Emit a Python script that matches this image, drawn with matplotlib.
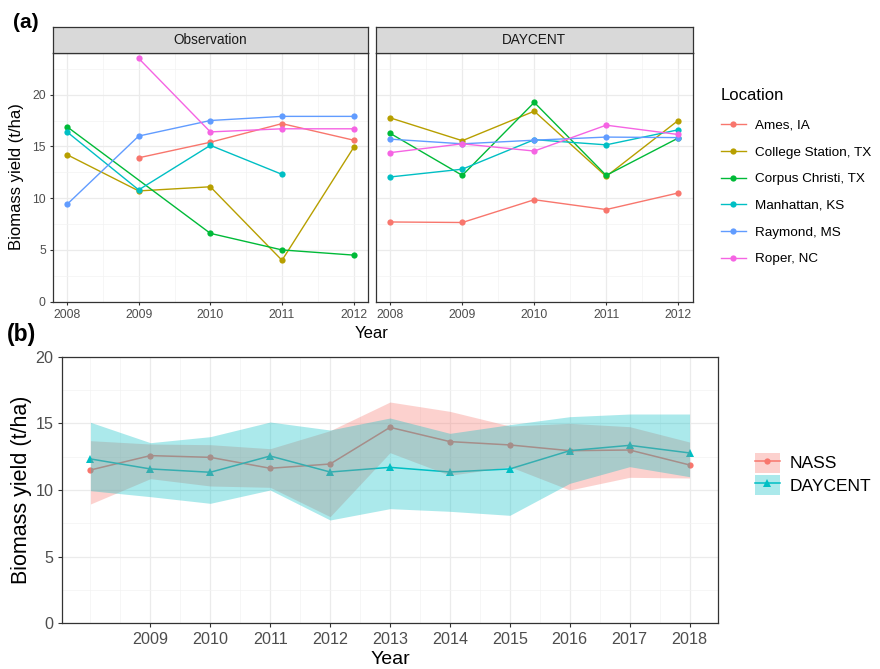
import numpy as np
import matplotlib
matplotlib.use("Agg")
import matplotlib.pyplot as plt
from matplotlib.lines import Line2D
from matplotlib.patches import Patch
from matplotlib.legend_handler import HandlerTuple

plt.rcParams['font.family'] = ['Liberation Sans', 'DejaVu Sans']

# ---------------- data: panel (a) ----------------
years_a = [2008, 2009, 2010, 2011, 2012]
locations = ["Ames, IA", "College Station, TX", "Corpus Christi, TX",
             "Manhattan, KS", "Raymond, MS", "Roper, NC"]
nan = np.nan
obs_ames = [nan, 13.9, 15.4, 17.2, 15.6]
obs_college = [14.2, 10.7, 11.1, 4.0, 14.9]
obs_corpus = [16.9, nan, 6.6, 5.0, 4.5]
obs_manhattan = [16.4, 10.8, 15.1, 12.3, nan]
obs_raymond = [9.4, 16.0, 17.5, 17.9, 17.9]
obs_roper = [nan, 23.5, 16.4, 16.7, 16.7]

day_ames = [7.7, 7.65, 9.85, 8.9, 10.5]
day_college = [17.75, 15.55, 18.4, 12.1, 17.5]
day_corpus = [16.25, 12.2, 19.25, 12.2, 15.8]
day_manhattan = [12.05, 12.8, 15.65, 15.15, 16.6]
day_raymond = [15.7, 15.25, 15.6, 15.9, 15.85]
day_roper = [14.4, 15.25, 14.55, 17.05, 16.15]

facet_titles = ["Observation", "DAYCENT"]

# ---------------- data: panel (b) ----------------
years_b = [2008, 2009, 2010, 2011, 2012, 2013, 2014, 2015, 2016, 2017, 2018]
year_b_ticks = [2009, 2010, 2011, 2012, 2013, 2014, 2015, 2016, 2017, 2018]
nass_mean = [11.5, 12.58, 12.45, 11.63, 11.95, 14.7, 13.63, 13.38, 12.95, 13.0, 11.88]
nass_lower = [8.95, 10.85, 10.3, 10.2, 8.0, 12.8, 11.1, 11.75, 10.0, 10.95, 10.9]
nass_upper = [13.7, 13.45, 13.4, 13.1, 14.45, 16.6, 15.9, 14.8, 15.0, 14.75, 13.6]
day_mean = [12.33, 11.58, 11.33, 12.55, 11.35, 11.7, 11.35, 11.58, 12.95, 13.35, 12.78]
day_lower = [9.95, 9.5, 9.0, 10.0, 7.75, 8.6, 8.4, 8.1, 10.5, 11.75, 11.0]
day_upper = [15.08, 13.55, 14.0, 15.1, 14.5, 15.4, 14.25, 14.9, 15.5, 15.7, 15.7]
series_b = ["NASS", "DAYCENT"]

# ---------------- style ----------------
loc_colors = ["#F8766D", "#B79F00", "#00BA38", "#00BFC4", "#619CFF", "#F564E3"]
c_nass, c_day = "#F8766D", "#00BFC4"
W, H = 880, 669
fig = plt.figure(figsize=(W / 100, H / 100), dpi=100)

def ax_px(x0, y0, x1, y1, **kw):
    return fig.add_axes([x0 / W, 1 - y1 / H, (x1 - x0) / W, (y1 - y0) / H], **kw)

tick_col = "#4D4D4D"
edge_col = "#333333"
grid_major = "#EBEBEB"

def style_axes(ax, fs, ylabels=True):
    for s in ax.spines.values():
        s.set_color(edge_col)
        s.set_linewidth(0.9)
    ax.set_axisbelow(True)
    ax.grid(which="major", color=grid_major, lw=0.9)
    ax.grid(which="minor", color="#F3F3F3", lw=0.5)
    ax.tick_params(which="major", length=2.5, width=0.8, color=edge_col,
                   labelsize=fs, labelcolor=tick_col, pad=2.5)
    ax.tick_params(which="minor", length=0)
    if not ylabels:
        ax.tick_params(axis="y", which="both", length=0, labelleft=False)

# ---------------- panel (a) ----------------
obs_all = [obs_ames, obs_college, obs_corpus, obs_manhattan, obs_raymond, obs_roper]
day_all = [day_ames, day_college, day_corpus, day_manhattan, day_raymond, day_roper]

panel_px = [(52.7, 52.7, 368.0, 301.7), (376.0, 52.7, 692.5, 301.7)]
for k, (data, title) in enumerate(zip([obs_all, day_all], facet_titles)):
    x0, y0, x1, y1 = panel_px[k]
    ax = ax_px(x0, y0, x1, y1)
    for vals, col in zip(data, loc_colors):
        yrs = np.array(years_a, dtype=float)
        v = np.array(vals, dtype=float)
        m = ~np.isnan(v)
        ax.plot(yrs[m], v[m], color=col, lw=1.0, marker="o", ms=4.5,
                markeredgewidth=0, zorder=3)
    ax.set_xlim(2007.8, 2012.2)
    ax.set_ylim(0, 24.05)
    ax.set_xticks(years_a)
    ax.set_xticks([2008.5, 2009.5, 2010.5, 2011.5], minor=True)
    ax.set_yticks([0, 5, 10, 15, 20])
    ax.set_yticks([2.5, 7.5, 12.5, 17.5, 22.5], minor=True)
    style_axes(ax, 8.8, ylabels=(k == 0))
    # facet strip
    sx = ax_px(x0, 27.0, x1, 52.7)
    sx.set_facecolor("#D9D9D9")
    sx.set_xticks([]); sx.set_yticks([])
    for s in sx.spines.values():
        s.set_color(edge_col); s.set_linewidth(0.9)
    sx.text(0.5, 0.5, title, ha="center", va="center", fontsize=9.8,
            color="#1A1A1A", transform=sx.transAxes)

fig.text(372 / W, 1 - 333 / H, "Year", ha="center", va="center", fontsize=12)
fig.text(17 / W, 1 - 177 / H, "Biomass yield (t/ha)", ha="center", va="center",
         rotation=90, fontsize=12)
fig.text(13 / W, 1 - 23 / H, "(a)", ha="left", va="center", fontsize=15,
         fontweight="bold")

loc_handles = [Line2D([], [], color=c, lw=1.0, marker="o", ms=4.5,
                      markeredgewidth=0) for c in loc_colors]
leg_a = fig.legend(loc_handles, locations, loc="upper left",
                   bbox_to_anchor=(714 / W, 1 - 81 / H), frameon=False,
                   title="Location", title_fontsize=12, fontsize=9.7,
                   handlelength=1.85, handletextpad=0.7, labelspacing=1.06,
                   borderpad=0, alignment="left")
leg_a._legend_box.sep = 12

# ---------------- panel (b) ----------------
axb = ax_px(61.7, 356.7, 718.3, 623.3)
axb.plot(years_b, nass_mean, color=c_nass, lw=1.1, marker="o", ms=4.5,
         markeredgewidth=0, zorder=2)
axb.plot(years_b, day_mean, color=c_day, lw=1.1, marker="^", ms=5.5,
         markeredgewidth=0, zorder=2)
axb.fill_between(years_b, nass_lower, nass_upper, color=c_nass, alpha=0.33,
                 lw=0, zorder=3)
axb.fill_between(years_b, day_lower, day_upper, color=c_day, alpha=0.33,
                 lw=0, zorder=3)
axb.set_xlim(2007.52, 2018.48)
axb.set_ylim(0, 20)
axb.set_xticks(year_b_ticks)
axb.set_xticks([2008, 2008.5] + [y + 0.5 for y in year_b_ticks[:-1]], minor=True)
axb.set_yticks([0, 5, 10, 15, 20])
axb.set_yticks([2.5, 7.5, 12.5, 17.5], minor=True)
style_axes(axb, 11.6)
axb.tick_params(which="major", length=3.0, pad=3)

fig.text(390 / W, 1 - 659 / H, "Year", ha="center", va="center", fontsize=14)
fig.text(22 / W, 1 - 490 / H, "Biomass yield (t/ha)", ha="center",
         va="center", rotation=90, fontsize=15.5)
fig.text(7 / W, 1 - 335 / H, "(b)", ha="left", va="center", fontsize=16.5,
         fontweight="bold")

hb = [(Patch(facecolor=c_nass, alpha=0.33, lw=0),
       Line2D([], [], color=c_nass, lw=1.1, marker="o", ms=4.5, markeredgewidth=0)),
      (Patch(facecolor=c_day, alpha=0.33, lw=0),
       Line2D([], [], color=c_day, lw=1.1, marker="^", ms=5.5, markeredgewidth=0))]
fig.legend(hb, series_b, loc="upper left", bbox_to_anchor=(746 / W, 1 - 444 / H),
           frameon=False, fontsize=12.5, handlelength=1.45, handleheight=1.4,
           handletextpad=0.55, labelspacing=0.15, borderpad=0,
           handler_map={tuple: HandlerTuple(ndivide=1, pad=0)})

fig.savefig("out.png", dpi=100)
